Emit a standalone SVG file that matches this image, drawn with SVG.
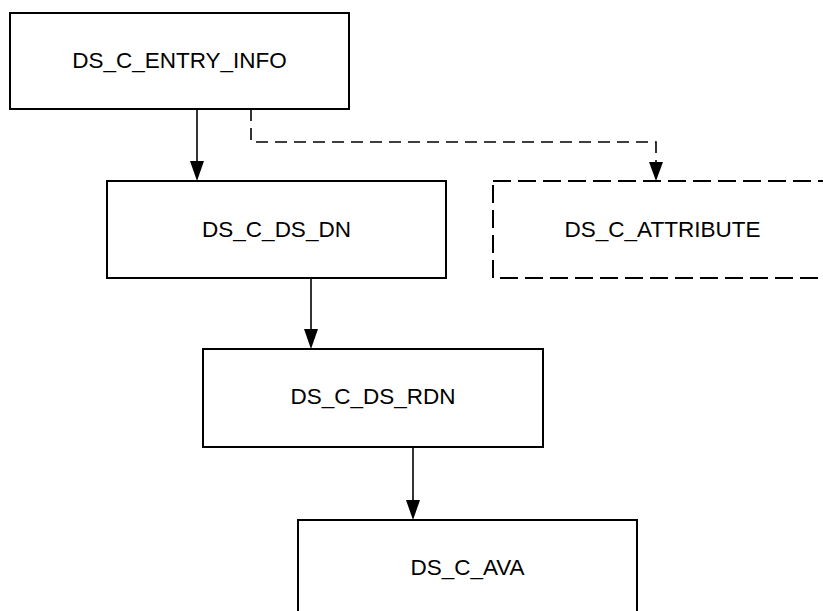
<svg xmlns="http://www.w3.org/2000/svg" width="823" height="611" viewBox="0 0 823 611">
<defs>
<style>
.box{fill:#fff;stroke:#000;stroke-width:2}
.dbox{fill:#fff;stroke:#000;stroke-width:2;stroke-dasharray:18 7}
.lbl{font-family:"Liberation Sans",Arial,sans-serif;font-size:22.5px;fill:#000;text-anchor:middle}
.edge{fill:none;stroke:#000;stroke-width:1.6}
.dedge{fill:none;stroke:#000;stroke-width:1.6;stroke-dasharray:12 7}
.head{fill:#000}
</style>
</defs>
<rect width="823" height="611" fill="#fff"/>
<g id="connectors">
<path class="edge" d="M197,109 V161"/>
<polygon class="head" points="190,161 204,161 197,181"/>
<path class="dedge" d="M251,109 V142 H656 V162"/>
<polygon class="head" points="649,162 663,162 656,181"/>
<path class="edge" d="M311,278 V329"/>
<polygon class="head" points="304,329 318,329 311,349"/>
<path class="edge" d="M413,447 V500"/>
<polygon class="head" points="406,500 420,500 413,520"/>
</g>
<g id="node-entry-info">
<rect class="box" x="10" y="13" width="339" height="96"/>
<text class="lbl" x="179.5" y="68">DS_C_ENTRY_INFO</text>
</g>
<g id="node-ds-dn">
<rect class="box" x="107" y="181" width="339" height="97"/>
<text class="lbl" x="276.5" y="237">DS_C_DS_DN</text>
</g>
<g id="node-attribute">
<rect class="dbox" x="493" y="181" width="339" height="97"/>
<text class="lbl" x="662.5" y="237">DS_C_ATTRIBUTE</text>
</g>
<g id="node-ds-rdn">
<rect class="box" x="203" y="349" width="340" height="98"/>
<text class="lbl" x="373" y="404">DS_C_DS_RDN</text>
</g>
<g id="node-ava">
<rect class="box" x="298" y="520" width="339" height="97"/>
<text class="lbl" x="467.5" y="575">DS_C_AVA</text>
</g>
</svg>
